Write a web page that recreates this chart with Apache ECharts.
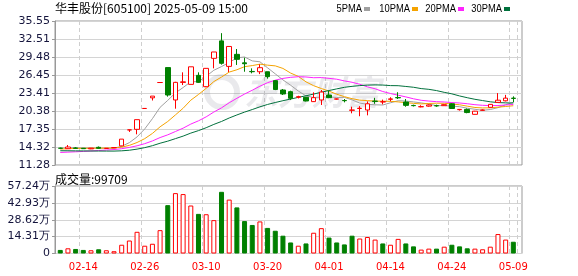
<!DOCTYPE html>
<html><head><meta charset="utf-8">
<script src="https://cdn.jsdelivr.net/npm/echarts@6/dist/echarts.min.js"></script>
<style>html,body{margin:0;padding:0;background:#fff}#c{width:578px;height:276px}</style>
</head><body><div id="c"></div><script>
// ---- data ----
const dates = ['02-11','02-12','02-13','02-14','02-17','02-18','02-19','02-20','02-21','02-24','02-25','02-26','02-27','02-28','03-03','03-04','03-05','03-06','03-07','03-10','03-11','03-12','03-13','03-14','03-17','03-18','03-19','03-20','03-21','03-24','03-25','03-26','03-27','03-28','03-31','04-01','04-02','04-03','04-07','04-08','04-09','04-10','04-11','04-14','04-15','04-16','04-17','04-18','04-21','04-22','04-23','04-24','04-25','04-28','04-29','04-30','05-06','05-07','05-08','05-09'];
const openP  = [14.12,14.03,14.15,14.10,14.00,14.26,14.07,14.18,14.50,17.20,17.29,20.81,22.60,25.18,27.70,22.24,25.20,24.87,26.39,24.48,29.26,32.20,27.90,29.93,28.50,27.05,27.00,27.00,25.50,23.92,23.64,22.70,22.69,21.96,22.24,23.08,22.38,22.15,20.50,20.80,20.55,22.05,21.90,22.35,22.65,21.90,21.32,21.08,21.20,21.28,21.28,21.60,20.60,20.65,19.82,20.50,21.00,21.84,22.10,22.55];
const closeP = [14.09,14.31,14.09,14.03,14.12,14.09,14.10,14.22,15.64,17.20,18.92,20.81,22.89,25.18,23.08,25.21,25.30,27.83,25.21,27.57,30.33,28.42,31.26,29.09,28.35,27.00,27.68,26.17,24.00,23.25,22.52,22.80,22.07,22.63,23.58,22.63,22.42,22.12,20.55,20.85,21.60,22.00,21.95,22.42,22.60,21.33,21.28,21.12,21.40,21.25,21.45,20.80,20.65,20.12,20.35,20.55,21.50,22.20,22.55,22.50];
const lowP   = [13.98,14.00,14.00,13.98,13.95,14.05,14.05,14.15,14.45,16.85,16.45,20.81,22.15,25.18,22.80,20.77,24.76,24.87,25.10,24.40,27.57,28.20,26.95,28.14,27.00,26.73,26.60,25.83,23.90,23.08,22.24,22.50,22.00,21.90,21.39,22.55,22.30,21.84,19.99,19.50,19.65,21.60,21.50,22.00,22.40,21.10,21.15,21.00,21.10,21.10,21.25,20.75,20.45,20.00,19.80,20.45,20.95,21.80,22.00,21.85];
const highP  = [14.20,14.65,14.30,14.15,14.15,14.40,14.12,14.25,15.64,17.20,18.92,20.81,22.89,25.18,27.70,25.30,26.90,27.83,26.90,27.60,30.33,33.50,31.26,30.83,29.37,27.57,28.25,27.00,25.60,24.09,23.80,22.95,22.75,23.53,23.92,23.75,22.50,22.40,21.11,21.20,22.00,22.60,22.30,22.70,23.55,22.40,21.45,21.35,21.50,21.45,21.50,21.70,20.70,20.80,20.40,20.65,21.55,23.40,23.10,22.85];
// closes of the 30 sessions before the first visible one (for the moving averages)
const priorCloses = [14.6,14.5,14.5,14.4,14.4,14.3,14.3,14.3,14.3,14.2,13.4,13.2,13.0,12.8,12.6,12.5,12.5,12.6,12.7,12.9,13.5,13.6,13.7,13.8,13.9,14.0,14.0,14.1,14.2,14.2];
// volume in 万 shares, and whether the bar is drawn as an up (red) bar
const volumeWan = [3.03,4.40,3.85,3.03,2.75,3.58,2.75,1.93,7.43,11.0,18.4,6.6,8.26,19.8,41.0,51.2,50.4,40.7,33.6,33.3,28.3,52.3,45.7,39.1,27.5,24.2,27.2,21.7,19.3,15.1,9.36,6.6,8.53,17.6,21.5,13.5,9.36,7.7,15.1,12.7,14.0,11.8,8.53,7.43,12.4,8.53,6.05,3.30,4.13,4.13,5.78,7.43,6.05,4.40,4.13,3.58,5.78,16.5,11.8,9.97];
const volumeUp  = [0,1,0,0,1,0,1,1,1,1,1,1,1,1,0,1,1,1,0,1,1,0,1,0,0,0,1,0,0,0,0,1,0,1,1,0,0,0,0,1,1,1,0,1,1,0,0,1,1,0,1,0,0,0,1,1,1,1,1,0];
const priceTicks = ['11.28','14.32','17.35','20.38','23.41','26.45','29.48','32.51','35.55'];
const priceMin = 11.28, priceMax = 35.55;
const volTicks = ['0','14.31万','28.62万','42.93万','57.24万'];
const volMax = 57.24;
const maPeriods = [5,10,20,30];
const maNames = ['5PMA','10PMA','20PMA','30PMA'];
const lastVolume = '99709';
const titleText = '华丰股份[605100] 2025-05-09 15:00';
const watermarkText = '东方财富';

// ---- build ----
const maColors = ['#a0a0a0','#f5a300','#ff22ff','#00703c'];
const allCloses = priorCloses.concat(closeP);
function ma(n){
  const off = priorCloses.length;
  return closeP.map((_,i)=>{
    let s=0; for(let k=0;k<n;k++) s+=allCloses[off+i-k];
    return +(s/n).toFixed(3);
  });
}
const RED='#ff0000', GREEN='#008000';
const showIdx = (i)=> (i-3)%8===0;

const L=55, W=467, DL=56.42, DW=460.74;
const PT=21, PH=144, VT=186, VH=67.5;
const numFont = 'DejaVu Sans';
const hidden = {show:false};

const chart = echarts.init(document.getElementById('c'));
const series = [{
  type:'candlestick', xAxisIndex:1, yAxisIndex:1, barWidth:5,
  data: dates.map((d,i)=>[openP[i],closeP[i],lowP[i],highP[i]]),
  itemStyle:{color:'#ffffff', color0:GREEN, borderColor:RED, borderColor0:GREEN, borderWidth:1},
  z:4, animation:false
}];
maPeriods.forEach((p,k)=>series.push({
  type:'line', name:maNames[k], xAxisIndex:1, yAxisIndex:1, data:ma(p),
  showSymbol:false, symbol:'none', lineStyle:{width:1,color:maColors[k]}, z:3, animation:false
}));
series.push({
  type:'bar', xAxisIndex:3, yAxisIndex:3, barWidth:5, animation:false,
  data: volumeWan.map((v,i)=>({value:v, itemStyle: volumeUp[i]
    ? {color:'#ffffff', borderColor:RED, borderWidth:1}
    : {color:GREEN, borderColor:GREEN, borderWidth:1}}))
});

const legendX = [364, 412, 458, 504];
const wm = 'rgba(110,110,125,0.15)';
const graphic = [
  {type:'text', left:L, top:2, z:5, style:{text:titleText, font:'12px "Noto Sans CJK SC"', fill:'#000'}},
  {type:'text', left:L, top:173, z:5, style:{text:'成交量:'+lastVolume, font:'12px "Noto Sans CJK SC"', fill:'#000'}},
  {type:'text', x:312, y:92, z:1, silent:true, style:{text:watermarkText, font:'italic bold 34px "Noto Sans CJK SC"', fill:wm, textAlign:'center', textVerticalAlign:'middle'}},
  {type:'circle', shape:{cx:222, cy:92, r:15}, z:1, silent:true, style:{fill:'none', stroke:wm, lineWidth:6}}
];
maNames.forEach((n,k)=>{
  graphic.push({type:'text', x:legendX[k]-2, y:9, scaleX:0.85, z:5, style:{text:n, font:'11px "Liberation Sans"', fill:'#000', textAlign:'right', textVerticalAlign:'middle'}});
  graphic.push({type:'rect', shape:{x:legendX[k], y:7, width:6, height:4}, z:5, style:{fill:maColors[k]}});
});

const ylab = {fontFamily:numFont, fontSize:11, color:'#14143c', margin:5};
chart.setOption({
  animation:false,
  grid:[
    {left:L, top:PT, width:W, height:PH, show:true, borderColor:'#999', borderWidth:1, backgroundColor:'transparent'},
    {left:DL, top:PT, width:DW, height:PH},
    {left:L, top:VT, width:W, height:VH, show:true, borderColor:'#999', borderWidth:1},
    {left:DL, top:VT, width:DW, height:VH}
  ],
  xAxis:[
    {gridIndex:0, type:'value', min:0, max:1, show:false},
    {gridIndex:1, type:'category', data:dates, boundaryGap:true, axisLine:hidden, axisTick:hidden, axisLabel:hidden,
      splitLine:{show:true, interval:(i)=>showIdx(i), lineStyle:{color:'#cfcfcf', type:[4,3], width:1}}},
    {gridIndex:2, type:'value', min:0, max:1, show:false},
    {gridIndex:3, type:'category', data:dates, boundaryGap:true, axisLine:hidden, axisTick:hidden,
      axisLabel:{show:true, interval:(i)=>showIdx(i), color:RED, fontFamily:numFont, fontSize:10, margin:9},
      splitLine:{show:true, interval:(i)=>showIdx(i), lineStyle:{color:'#cfcfcf', type:[4,3], width:1}}}
  ],
  yAxis:[
    {gridIndex:0, type:'value', min:0, max:8, interval:1,
      axisLine:{show:true, lineStyle:{color:'#999'}}, axisTick:{show:true, length:3, lineStyle:{color:'#999'}},
      axisLabel:Object.assign({formatter:(v)=>priceTicks[v]}, ylab),
      splitLine:{show:true, lineStyle:{color:'#d4d4d4', width:1}}},
    {gridIndex:1, type:'value', min:priceMin, max:priceMax, show:false, splitLine:hidden},
    {gridIndex:2, type:'value', min:0, max:4, interval:1,
      axisLine:{show:true, lineStyle:{color:'#999'}}, axisTick:{show:true, length:3, lineStyle:{color:'#999'}},
      axisLabel:Object.assign({formatter:(v)=>volTicks[v]}, ylab),
      splitLine:{show:true, lineStyle:{color:'#d4d4d4', width:1}}},
    {gridIndex:3, type:'value', min:0, max:volMax, show:false, splitLine:hidden}
  ],
  series, graphic
});
</script></body></html>
